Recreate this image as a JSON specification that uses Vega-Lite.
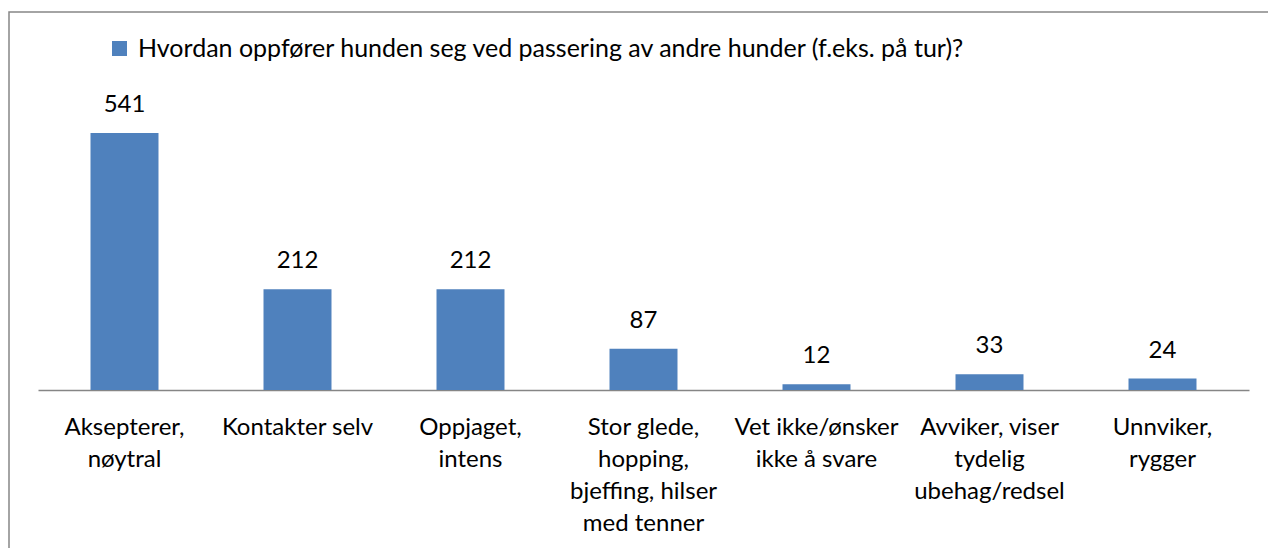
{
  "$schema": "https://vega.github.io/schema/vega-lite/v6.json",
  "width": 1270,
  "height": 560,
  "autosize": {"type": "none"},
  "padding": {"left": 9, "top": 12, "right": 0, "bottom": 0},
  "background": "white",
  "config": {
    "font": "Lato",
    "view": {"stroke": "#868686", "strokeWidth": 1.5}
  },
  "data": {
    "values": [
      {"kategori": "Aksepterer,\nnøytral", "antall": 541, "serie": "Hvordan oppfører hunden seg ved passering av andre hunder (f.eks. på tur)?"},
      {"kategori": "Kontakter selv", "antall": 212, "serie": "Hvordan oppfører hunden seg ved passering av andre hunder (f.eks. på tur)?"},
      {"kategori": "Oppjaget,\nintens", "antall": 212, "serie": "Hvordan oppfører hunden seg ved passering av andre hunder (f.eks. på tur)?"},
      {"kategori": "Stor glede,\nhopping,\nbjeffing, hilser\nmed tenner", "antall": 87, "serie": "Hvordan oppfører hunden seg ved passering av andre hunder (f.eks. på tur)?"},
      {"kategori": "Vet ikke/ønsker\nikke å svare", "antall": 12, "serie": "Hvordan oppfører hunden seg ved passering av andre hunder (f.eks. på tur)?"},
      {"kategori": "Avviker, viser\ntydelig\nubehag/redsel", "antall": 33, "serie": "Hvordan oppfører hunden seg ved passering av andre hunder (f.eks. på tur)?"},
      {"kategori": "Unnviker,\nrygger", "antall": 24, "serie": "Hvordan oppfører hunden seg ved passering av andre hunder (f.eks. på tur)?"}
    ]
  },
  "encoding": {
    "x": {
      "field": "kategori",
      "type": "nominal",
      "sort": null,
      "scale": {"range": [29, 1240], "paddingInner": 0.607, "paddingOuter": 0.3035},
      "axis": {
        "title": null,
        "orient": "bottom",
        "offset": -182,
        "labelAngle": 0,
        "ticks": false,
        "domainColor": "#868686",
        "domainWidth": 1.5,
        "labelFont": "Lato",
        "labelFontSize": 24,
        "labelColor": "black",
        "labelPadding": 25,
        "labelLineHeight": 32,
        "labelBaseline": "top",
        "labelLimit": 0,
        "labelExpr": "split(datum.value, '\\n')"
      }
    },
    "y": {
      "field": "antall",
      "type": "quantitative",
      "scale": {"domain": [-383.1, 795.7], "nice": false, "zero": false},
      "axis": null
    }
  },
  "layer": [
    {
      "mark": {"type": "bar", "color": "#4F81BD"},
      "encoding": {
        "color": {
          "field": "serie",
          "type": "nominal",
          "scale": {"range": ["#4F81BD"]},
          "legend": {
            "title": null,
            "orient": "none",
            "legendX": 98,
            "legendY": 24,
            "symbolType": "square",
            "symbolSize": 225,
            "symbolStrokeWidth": 0,
            "labelFont": "Lato",
            "labelFontSize": 25,
            "labelColor": "black",
            "labelLimit": 0,
            "labelOffset": 6
          }
        }
      }
    },
    {
      "mark": {"type": "text", "baseline": "alphabetic", "dy": -21, "fontSize": 24, "font": "Lato", "color": "black"},
      "encoding": {"text": {"field": "antall", "type": "quantitative"}}
    }
  ]
}
